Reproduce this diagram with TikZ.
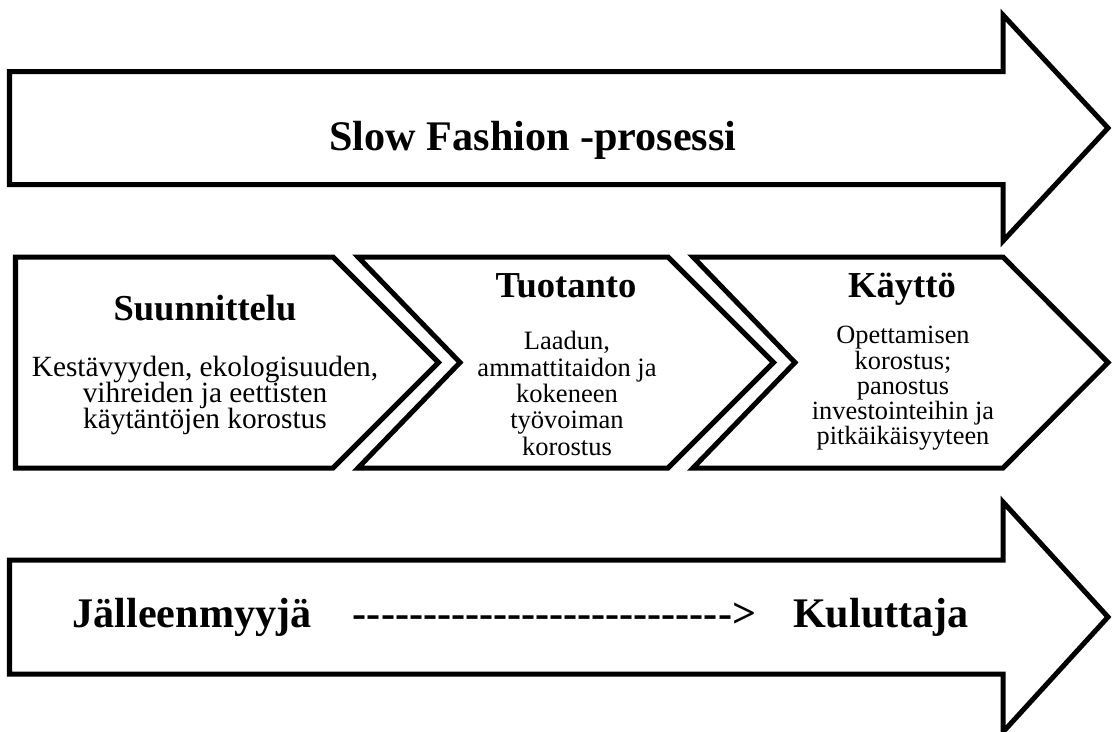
\documentclass[tikz,border=0pt]{standalone}
\usepackage{fontspec}
\setmainfont{Liberation Serif}
\usetikzlibrary{positioning}
\setlength{\lineskiplimit}{-50pt}

\begin{document}
\begin{tikzpicture}[
    x=0.02cm, y=-0.02cm,
    line width=2.85pt,
    outline/.style={draw=black, fill=white, line join=miter},
    bigtext/.style={font=\fontsize{24}{28}\selectfont\bfseries,
                    inner sep=0pt, anchor=base},
    headtext/.style={font=\fontsize{20.8}{24}\selectfont\bfseries,
                     inner sep=0pt, anchor=base},
    bodytext/.style 2 args={font=\fontsize{#1}{#2}\selectfont, align=center,
                     inner sep=0pt, anchor=north},
]
    \useasboundingbox (0,0) rectangle (1112,731);

    % Process arrow
    \draw[outline] (9.5,71.5) -- (1003,71.5) -- (1003,15) -- (1108,128)
        -- (1003,241) -- (1003,184.5) -- (9.5,184.5) -- cycle;
    \node[bigtext] (process) at (533,150) {Slow Fashion -prosessi};

    % Stages
    \draw[outline] (15.5,257) -- (333,257) -- (438.5,362.5) -- (333,468)
        -- (15.5,468) -- cycle;
    \draw[outline] (358,257) -- (668,257) -- (773.5,362.5) -- (668,468)
        -- (358,468) -- (460,362.5) -- cycle;
    \draw[outline] (693,257) -- (1003,257) -- (1108,362.5) -- (1003,468)
        -- (693,468) -- (795,362.5) -- cycle;

    \node[headtext] (design) at (205,320) {Suunnittelu};
    \node[bodytext={16.7}{14.8}] (designtxt) at (205,354)
        {Kestävyyden, ekologisuuden,\\vihreiden ja eettisten\\käytäntöjen korostus};

    \node[headtext] (production) at (566,297) {Tuotanto};
    \node[bodytext={15.1}{15}] (productiontxt) at (567,329)
        {Laadun,\\ammattitaidon ja\\kokeneen\\työvoiman\\korostus};

    \node[headtext] (usage) at (902,297) {Käyttö};
    \node[bodytext={15}{14.3}] (usagetxt) at (903,324)
        {Opettamisen\\korostus;\\panostus\\investointeihin ja\\pitkäikäisyyteen};

    % Retailer to consumer arrow
    \draw[outline] (9.5,560) -- (1003,560) -- (1003,502) -- (1108,617)
        -- (1003,732) -- (1003,674) -- (9.5,674) -- cycle;
    \node[bigtext] (retailer) at (192,627) {Jälleenmyyjä};
    \node[bigtext] (flow) at (554.5,627) {\foreach \k in {1,...,27}{-}>};
    \node[bigtext] (consumer) at (881,627) {Kuluttaja};

\end{tikzpicture}
\end{document}
